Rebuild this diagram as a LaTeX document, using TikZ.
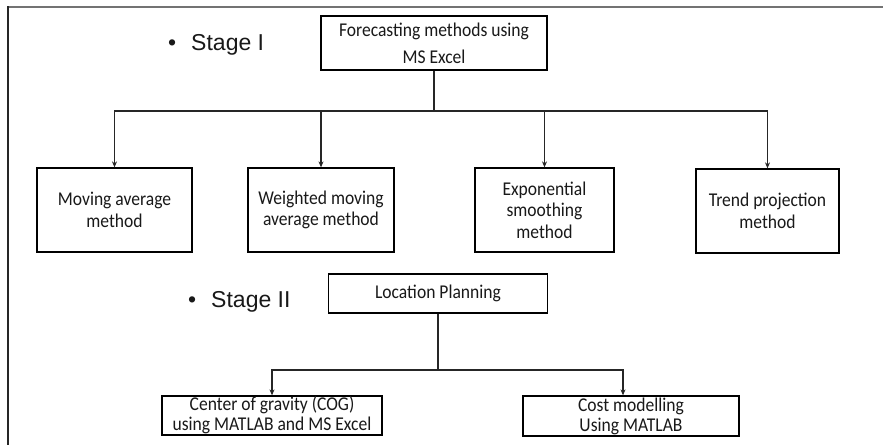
\documentclass[tikz,border=0pt]{standalone}
\usepackage{fontspec}
\setmainfont{Carlito}[FakeStretch=0.9]
\newfontfamily\stagefont{Liberation Sans}
\usetikzlibrary{arrows.meta}
\begin{document}
\begin{tikzpicture}[x=1pt,y=-1pt,
  box/.style={draw=black, line width=1.3pt, inner sep=0pt, align=center, text=black!90, font=\fontsize{19.5}{21.5}\selectfont},
  conn/.style={line width=1.1pt, draw=black!85},
  arr/.style={conn, -{Stealth[length=6pt,width=5pt]}},
  stage/.style={anchor=west, inner sep=0pt, font=\stagefont\fontsize{23}{27}\selectfont, text=black!90}]
\useasboundingbox (0,0) rectangle (883,445);
\fill[white] (0,0) rectangle (883,445);
\draw[black!55, line width=2pt] (8,7) -- (883,7);
\draw[black!85, line width=1.5pt] (8,6) -- (8,445);

\node[box, minimum width=226pt, minimum height=54pt, font=\fontsize{19.5}{27}\selectfont] (fc) at (434,43) {Forecasting methods using\\MS Excel};
\node[box, minimum width=155pt, minimum height=84pt] (ma) at (114.5,210) {Moving average\\method};
\node[box, minimum width=146pt, minimum height=84pt] (wma) at (321,210) {Weighted moving\\average method};
\node[box, minimum width=139pt, minimum height=84pt] (es) at (544.5,210) {Exponential\\smoothing\\method};
\node[box, minimum width=143pt, minimum height=84pt] (tp) at (767.5,211) {Trend projection\\method};
\node[box, minimum width=219pt, minimum height=39pt] (lp) at (438,293.5) {Location Planning};
\node[box, minimum width=220pt, minimum height=39pt, font=\fontsize{19.5}{20}\selectfont] (cog) at (272,415.5) {Center of gravity (COG)\\using MATLAB and MS Excel};
\node[box, minimum width=216pt, minimum height=40pt, font=\fontsize{19.5}{20}\selectfont] (cm) at (631,416) {Cost modelling\\Using MATLAB};

\node[stage] (s1) at (168,45) {•\hspace{15pt}Stage I};
\node[stage] (s2) at (188,302) {•\hspace{15pt}Stage II};

\coordinate (j1) at (434,111);
\draw[conn] (fc.south) -- (j1);
\draw[arr] (j1) -| (ma.north);
\draw[arr] (j1) -| (wma.north);
\draw[arr] (j1) -| (es.north);
\draw[arr] (j1) -| (tp.north);

\coordinate (j2) at (438,370);
\draw[conn] (lp.south) -- (j2);
\draw[arr] (j2) -| (cog.north);
\draw[arr] (j2) -| ([xshift=-8pt]cm.north);
\end{tikzpicture}
\end{document}
